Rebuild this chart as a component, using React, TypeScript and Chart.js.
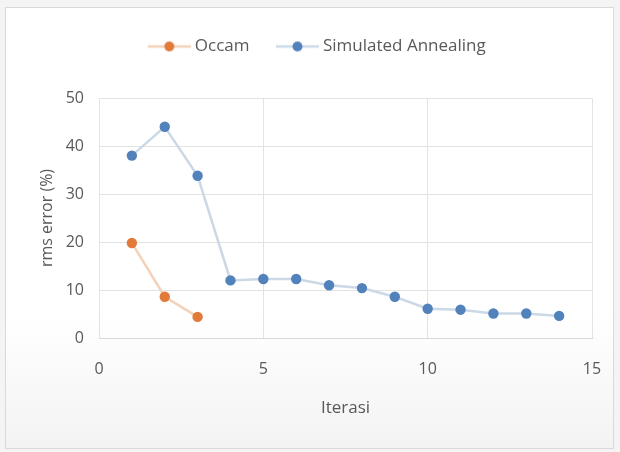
import React, { useEffect, useRef } from "react";
import { Chart, registerables } from "chart.js";
Chart.register(...registerables);

const iterOccam = [1, 2, 3];
const occamValues = [19.8, 8.6, 4.4];
const iterSA = [1, 2, 3, 4, 5, 6, 7, 8, 9, 10, 11, 12, 13, 14];
const saValues = [38.0, 44.0, 33.8, 12.0, 12.3, 12.3, 11.0, 10.4, 8.6, 6.1, 5.9, 5.1, 5.1, 4.6];
const seriesNames = ["Occam", "Simulated Annealing"];

const FONT = "'Open Sans', sans-serif";
const TXT = "#595959";

function legendIcon(dot: string, line: string) {
  const c = document.createElement("canvas");
  c.width = 51;
  c.height = 14;
  const ctx = c.getContext("2d")!;
  ctx.strokeStyle = line;
  ctx.lineWidth = 2.5;
  ctx.beginPath();
  ctx.moveTo(8, 7);
  ctx.lineTo(51, 7);
  ctx.stroke();
  ctx.fillStyle = dot;
  ctx.beginPath();
  ctx.arc(29.5, 7, 5, 0, Math.PI * 2);
  ctx.fill();
  return c;
}

const legendHeightPlugin = {
  id: "legendHeight",
  beforeLayout(chart: any) {
    const lg = chart.legend;
    if (lg && !lg.__patched) {
      const orig = lg.fit;
      lg.fit = function () {
        orig.call(this);
        this.height = 83;
      };
      lg.__patched = true;
    }
  },
};

export default function App() {
  const ref = useRef<HTMLCanvasElement>(null);
  useEffect(() => {
    document.body.style.margin = "0";
    const occamDot = "#e27a3a";
    const occamLine = "#f4d2b9";
    const saDot = "#5282bb";
    const saLine = "#cbd8e6";
    const icons = [legendIcon(occamDot, occamLine), legendIcon(saDot, saLine)];
    const chart = new Chart(ref.current!, {
      type: "scatter",
      data: {
        datasets: [
          {
            label: seriesNames[0],
            data: iterOccam.map((x, i) => ({ x, y: occamValues[i] })),
            showLine: true,
            borderColor: occamLine,
            backgroundColor: occamDot,
            borderWidth: 2.5,
            pointRadius: 5.2,
            pointBorderWidth: 0,
            pointBackgroundColor: occamDot,
          },
          {
            label: seriesNames[1],
            data: iterSA.map((x, i) => ({ x, y: saValues[i] })),
            showLine: true,
            borderColor: saLine,
            backgroundColor: saDot,
            borderWidth: 2.5,
            pointRadius: 5.2,
            pointBorderWidth: 0,
            pointBackgroundColor: saDot,
          },
        ],
      },
      plugins: [legendHeightPlugin],
      options: {
        animation: false,
        responsive: false,
        layout: { padding: { left: 32, right: 21, top: 7, bottom: 28 } },
        plugins: {
          tooltip: { enabled: false },
          legend: {
            position: "top",
            labels: {
              font: { family: FONT, size: 17 },
              color: TXT,
              usePointStyle: true,
              pointStyleWidth: 42,
              padding: 23,
              generateLabels: (ch: any) =>
                ch.data.datasets.map((d: any, i: number) => ({
                  text: d.label,
                  pointStyle: icons[i],
                  fillStyle: d.backgroundColor,
                  strokeStyle: d.borderColor,
                  lineWidth: 0,
                  hidden: false,
                  datasetIndex: i,
                  fontColor: TXT,
                })),
            },
          },
        },
        scales: {
          x: {
            type: "linear",
            min: 0,
            max: 15,
            afterFit: (s: any) => {
              s.height = 80;
              s.paddingLeft = 9;
              s.paddingRight = 9;
            },
            ticks: { stepSize: 5, color: TXT, font: { family: FONT, size: 16 }, padding: 22 },
            grid: { color: "#e3e3e3", drawTicks: false },
            border: { color: "#d9d9d9" },
            title: { display: true, text: "Iterasi", color: TXT, font: { family: FONT, size: 17 }, padding: { top: 0, bottom: 0 } },
          },
          y: {
            min: 0,
            max: 50,
            afterFit: (s: any) => {
              s.width = 61;
              s.paddingTop = 9;
              s.paddingBottom = 9;
            },
            ticks: { stepSize: 10, color: TXT, font: { family: FONT, size: 16 }, padding: 15 },
            grid: { color: "#e3e3e3", drawTicks: false },
            border: { display: false },
            title: { display: true, text: "rms error (%)", color: TXT, font: { family: FONT, size: 16 }, padding: { top: 0, bottom: 0 } },
          },
        },
      },
    });
    return () => chart.destroy();
  }, []);
  return (
    <div style={{ width: 620, height: 452, position: "relative", background: "#f4f4f4" }}>
      <div
        style={{
          position: "absolute",
          left: 5,
          top: 7,
          width: 607,
          height: 440,
          background: "linear-gradient(to bottom, #ffffff 70%, #f3f3f3 100%)",
          border: "1px solid #d9d9d9",
        }}
      >
        <canvas ref={ref} width={607} height={438} />
      </div>
    </div>
  );
}
